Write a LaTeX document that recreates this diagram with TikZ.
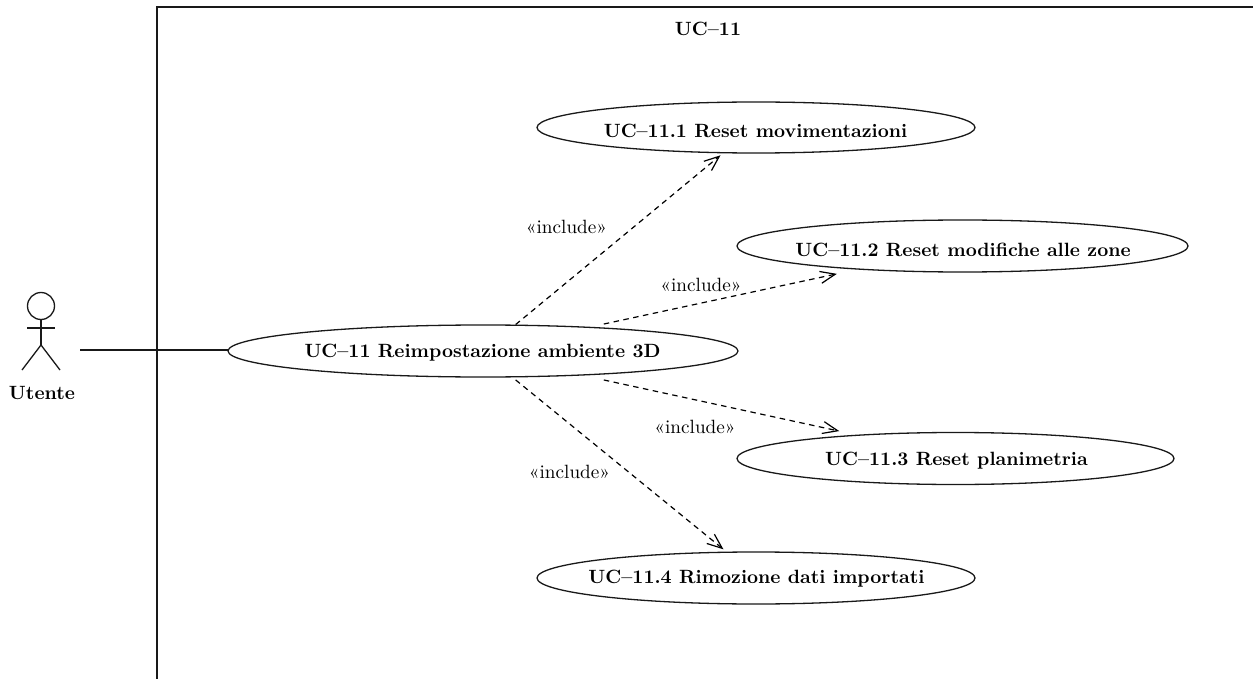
\documentclass[tikz,border=0pt]{standalone}
\usetikzlibrary{shapes.geometric,arrows.meta}
\newcommand{\tx}[1]{\scalebox{1.92}{#1}}
\tikzset{
 px/.style={x=1pt,y=-1pt},
 line/.style={line width=1.3pt,draw=black!90},
 usecase/.style={ellipse,line,inner sep=0pt},
 incl/.style={line width=1.2pt,dash pattern=on 5.5pt off 4.5pt,-{Straight Barb[length=15pt,width=12pt,line width=1.2pt]}},
 lab/.style={inner sep=0pt},
 boldlab/.style={inner sep=0pt,font=\bfseries},
}
\begin{document}
\begin{tikzpicture}[px]
\useasboundingbox (0,0) rectangle (1253,679);
\coordinate (fb) at (157,679);
\coordinate (ft) at (157,7);
\coordinate (fr) at (1253,7);
\draw[line] (fb) -- (ft) -- (fr);
\node[boldlab] (title) at (708,29) {\tx{UC--11}};
\node[usecase,minimum width=510pt,minimum height=52pt] (main) at (483,351) {};
\node[usecase,minimum width=438pt,minimum height=51pt] (u1) at (756,127.5) {};
\node[usecase,minimum width=451pt,minimum height=52pt] (u2) at (962.5,246) {};
\node[usecase,minimum width=437pt,minimum height=52pt] (u3) at (955.5,458.5) {};
\node[usecase,minimum width=438pt,minimum height=52pt] (u4) at (756,578) {};
\node[boldlab] (maint) at (482.5,353) {\tx{UC--11 Reimpostazione ambiente 3D}};
\node[boldlab] (u1t) at (755.5,131) {\tx{UC--11.1 Reset movimentazioni}};
\node[boldlab] (u2t) at (963,249.5) {\tx{UC--11.2 Reset modifiche alle zone}};
\node[boldlab] (u3t) at (956.5,461) {\tx{UC--11.3 Reset planimetria}};
\node[boldlab] (u4t) at (756.5,579) {\tx{UC--11.4 Rimozione dati importati}};
% actor
\node[circle,line,minimum size=27pt,inner sep=0pt] (head) at (41,306) {};
\coordinate (hip) at (41,345);
\coordinate (armL) at (27,328);
\coordinate (armR) at (55,328);
\coordinate (legL) at (22,370);
\coordinate (legR) at (60,370);
\coordinate (hand) at (80,350);
\coordinate (mainw) at (228,350);
\draw[line] (head.south) -- (hip);
\draw[line] (armL) -- (armR);
\draw[line] (legL) -- (hip) -- (legR);
\node[boldlab] (actor) at (42,393) {\tx{Utente}};
\draw[line] (hand) -- (mainw);
% includes
\draw[incl] (main.39.6) -- ([yshift=-2pt]u1.216.8);
\draw[incl] ([yshift=3.5pt]main.11.8) -- ([yshift=-5.7pt]u2.190.7);
\draw[incl] ([yshift=-5.5pt]main.349.2) -- ([yshift=4.8pt]u3.169.4);
\draw[incl] ([yshift=-2.5pt]main.321.9) -- ([yshift=2.3pt]u4.141.2);
\node[lab] (l1) at (566.5,227) {\tx{«include»}};
\node[lab] (l2) at (701,285) {\tx{«include»}};
\node[lab] (l3) at (695,427) {\tx{«include»}};
\node[lab] (l4) at (569.5,472) {\tx{«include»}};
\end{tikzpicture}
\end{document}
